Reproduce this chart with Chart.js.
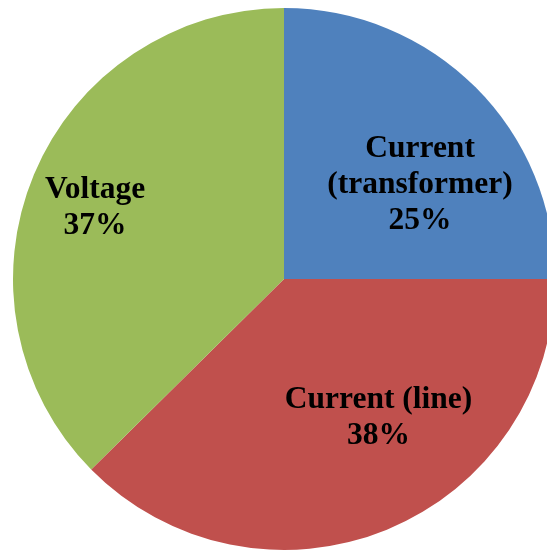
<!DOCTYPE html>
<html>
<head>
<meta charset="utf-8">
<script src="https://cdn.jsdelivr.net/npm/chart.js@4"></script>
<style>
  html, body { margin: 0; padding: 0; background: #fff; overflow: hidden; }
  #wrap { position: absolute; left: 0; top: 0; width: 568px; height: 552px; }
</style>
</head>
<body>
<div id="wrap"><canvas id="pieChart"></canvas></div>
<script>
// Datos
const categories = ['Current (transformer)', 'Current (line)', 'Voltage'];
const labelLines = [['Current', '(transformer)'], ['Current (line)'], ['Voltage']];
const shares = [25, 37.6, 37.4];
const colors = ['#4F81BD', '#C0504D', '#9BBB59'];

// Posición de etiquetas (fracción del radio respecto al centro)
const labelAnchors = [[0.502, -0.450], [0.349, 0.476], [-0.697, -0.299]];

const sliceLabels = {
    id: 'sliceLabels',
    afterDatasetsDraw(chart) {
        const ctx = chart.ctx;
        const meta = chart.getDatasetMeta(0);
        const total = shares.reduce((a, b) => a + b, 0);
        ctx.save();
        ctx.font = 'bold 31.5px "Liberation Serif", "Times New Roman", serif';
        ctx.fillStyle = '#000';
        ctx.textAlign = 'center';
        ctx.textBaseline = 'alphabetic';
        meta.data.forEach((arc, i) => {
            const r = arc.outerRadius;
            const x = arc.x + labelAnchors[i][0] * r;
            let y = arc.y + labelAnchors[i][1] * r;
            const pct = Math.round(shares[i] / total * 100);
            const lines = labelLines[i].concat([pct + '%']);
            lines.forEach(line => {
                ctx.fillText(line, x, y);
                y += 36;
            });
        });
        ctx.restore();
    }
};

const ctx = document.getElementById('pieChart').getContext('2d');
new Chart(ctx, {
    type: 'pie',
    data: {
        labels: categories,
        datasets: [{
            data: shares,
            backgroundColor: colors,
            borderWidth: 0
        }]
    },
    options: {
        responsive: true,
        maintainAspectRatio: false,
        animation: false,
        layout: { padding: { left: 13, right: 13, top: 8, bottom: 2 } },
        plugins: {
            legend: { display: false },
            tooltip: { enabled: false }
        }
    },
    plugins: [sliceLabels]
});
</script>
</body>
</html>
